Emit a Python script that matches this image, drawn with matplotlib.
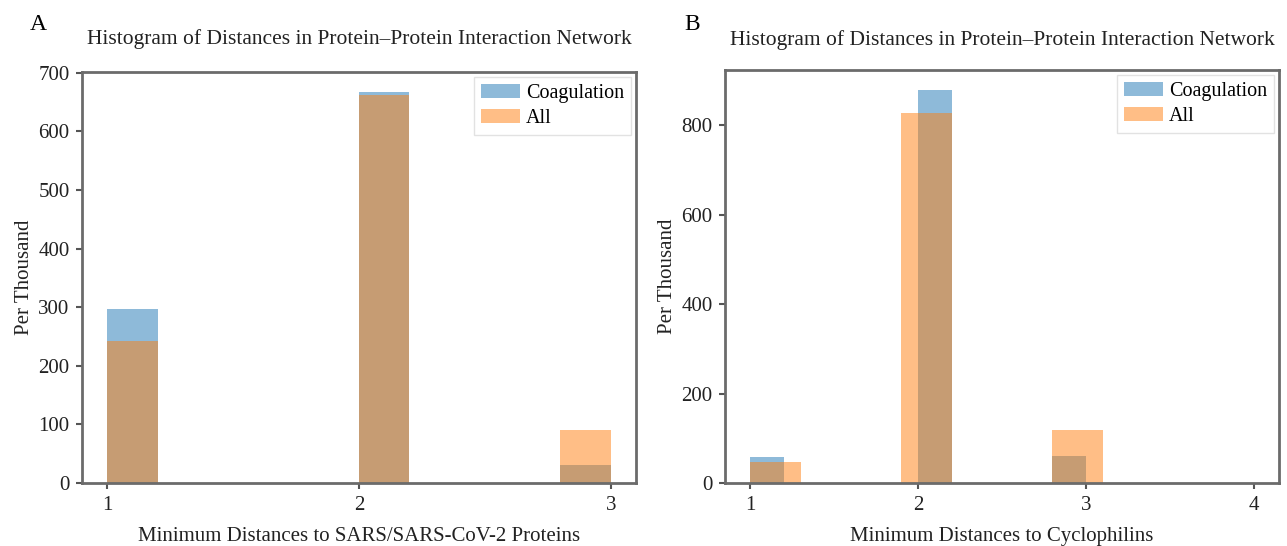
import numpy as np
import matplotlib.pyplot as plt

plt.rcParams['font.family'] = ['Liberation Serif', 'DejaVu Serif']
plt.rcParams['font.size'] = 15

# panel A: minimum distances to SARS/SARS-CoV-2 proteins (per thousand)
edges_a = np.linspace(1, 3, 11)
coag_a = [297, 0, 0, 0, 0, 668, 0, 0, 0, 31]
all_a = [242, 0, 0, 0, 0, 663, 0, 0, 0, 91]

# panel B: minimum distances to cyclophilins (per thousand)
edges_b_coag = np.linspace(1, 3, 11)
coag_b = [58, 0, 0, 0, 0, 880, 0, 0, 0, 60]
edges_b_all = np.linspace(1, 4, 11)
all_b = [47, 0, 0, 828, 0, 0, 119, 0, 0, 0]

title = 'Histogram of Distances in Protein\u2013Protein Interaction Network'

fig = plt.figure(figsize=(12.87, 5.46), dpi=100)
W, H = 1287, 546
ax_a = fig.add_axes([82 / W, 1 - 483 / H, (636 - 82) / W, (483 - 72) / H])
ax_b = fig.add_axes([725 / W, 1 - 483 / H, (1279 - 725) / W, (483 - 70) / H])


def draw(ax, e1, v1, e2, v2):
    ax.bar(e1[:-1], v1, width=np.diff(e1), align='edge', color='C0', alpha=0.5, label='Coagulation')
    ax.bar(e2[:-1], v2, width=np.diff(e2), align='edge', color='C1', alpha=0.5, label='All')
    for s in ax.spines.values():
        s.set_color('#6b6b6b')
        s.set_linewidth(2)
    ax.tick_params(colors='#555555', labelcolor='#222222', length=4, width=1.5, pad=5)
    ax.set_ylabel('Per Thousand', color='#222222', labelpad=3)
    ax.legend(loc='upper right', fontsize=14.5, handlelength=1.9, handletextpad=0.3,
              borderaxespad=0.25, borderpad=0.35, labelspacing=0.3, fancybox=False,
              edgecolor='#e2e2e2', framealpha=1)


draw(ax_a, edges_a, coag_a, edges_a, all_a)
ax_a.set_xlim(0.9, 3.1)
ax_a.set_ylim(0, max(coag_a) * 1.05)
ax_a.set_xticks([1, 2, 3])
ax_a.set_yticks(range(0, 701, 100))
ax_a.set_xlabel('Minimum Distances to SARS/SARS-CoV-2 Proteins', labelpad=9, color='#222222')
ax_a.set_title(title, pad=20, fontsize=15.5, color='#222222')

draw(ax_b, edges_b_coag, coag_b, edges_b_all, all_b)
ax_b.set_xlim(0.85, 4.15)
ax_b.set_ylim(0, max(coag_b) * 1.05)
ax_b.set_xticks([1, 2, 3, 4])
ax_b.set_yticks(range(0, 801, 200))
ax_b.set_xlabel('Minimum Distances to Cyclophilins', labelpad=9, color='#222222')
ax_b.set_title(title, pad=18, fontsize=15.5, color='#222222')

fig.text(38 / W, 1 - 25 / H, 'A', fontsize=17, ha='center', va='center')
fig.text(692 / W, 1 - 24 / H, 'B', fontsize=17, ha='center', va='center')

fig.savefig('out.png', dpi=100)
